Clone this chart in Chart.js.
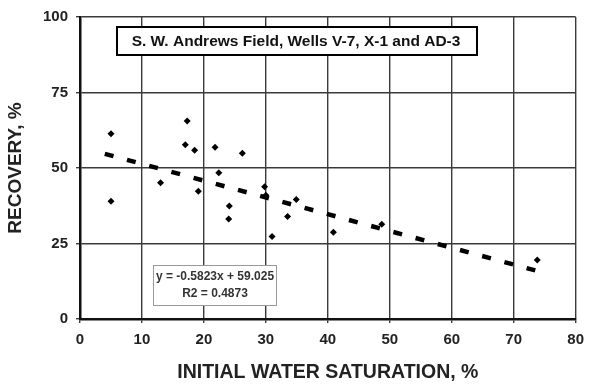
<!DOCTYPE html>
<html lang="en">
<head>
  <meta charset="UTF-8" />
  <title>Recovery vs initial water saturation</title>
  <script src="https://cdn.jsdelivr.net/npm/chart.js"></script>
  <style>
    html, body { margin: 0; padding: 0; background: #fff; }
    #chart-container { width: 592px; height: 388px; }
  </style>
</head>
<body>
  <div id="chart-container">
    <canvas id="chart"></canvas>
  </div>

  <script>
    // values
    const waterSat = [5, 5, 13, 17.3, 17, 18.5, 19.1, 21.8, 22.4, 26.2, 24.1, 24, 29.8, 30, 31, 33.5, 34.9, 40.9, 48.7, 73.8];
    const recovery = [61.3, 39, 45.1, 65.6, 57.7, 55.9, 42.3, 56.9, 48.4, 54.9, 37.4, 33.1, 43.8, 41, 27.3, 33.9, 39.6, 28.7, 31.4, 19.5];
    const trendX = [4, 74];
    const trendY = [54.7, 15.8];
    const xTicks = [0, 10, 20, 30, 40, 50, 60, 70, 80];
    const yTicks = [0, 25, 50, 75, 100];
    const titleText = 'S. W. Andrews Field, Wells V-7, X-1 and AD-3';
    const eqLines = ['y = -0.5823x + 59.025', 'R2 = 0.4873'];

    const FONT = "'Liberation Sans', Arial, sans-serif";

    const boxes = {
      id: 'boxes',
      afterDraw(chart) {
        const ctx = chart.ctx;
        ctx.save();
        // title box
        ctx.fillStyle = '#fff';
        ctx.fillRect(117, 27, 360, 28);
        ctx.strokeStyle = '#000';
        ctx.lineWidth = 2;
        ctx.strokeRect(117, 27, 360, 28);
        ctx.fillStyle = '#111';
        ctx.font = 'bold 15.5px ' + FONT;
        ctx.textAlign = 'center';
        ctx.textBaseline = 'middle';
        ctx.fillText(titleText, 296, 41.5);
        // equation box
        ctx.fillStyle = '#fff';
        ctx.fillRect(153.5, 265.5, 123, 40);
        ctx.strokeStyle = '#999';
        ctx.lineWidth = 1;
        ctx.strokeRect(153.5, 265.5, 123, 40);
        ctx.fillStyle = '#333';
        ctx.font = 'bold 12px ' + FONT;
        ctx.fillText(eqLines[0], 215, 277);
        ctx.fillText(eqLines[1], 215, 294);
        ctx.restore();
      }
    };

    const ctx = document.getElementById('chart').getContext('2d');
    new Chart(ctx, {
      data: {
        datasets: [
          {
            type: 'scatter',
            data: waterSat.map((x, i) => ({ x: x, y: recovery[i] })),
            pointStyle: 'rectRot',
            pointRadius: 3.5,
            backgroundColor: '#000',
            borderColor: '#000',
            borderWidth: 0
          },
          {
            type: 'line',
            data: trendX.map((x, i) => ({ x: x, y: trendY[i] })),
            borderColor: '#000',
            borderWidth: 4.5,
            borderDash: [9, 14],
            pointRadius: 0,
            fill: false
          }
        ]
      },
      options: {
        responsive: true,
        maintainAspectRatio: false,
        animation: false,
        layout: { padding: { top: 15, right: 13, left: 0, bottom: 0 } },
        plugins: {
          legend: { display: false },
          tooltip: { enabled: false }
        },
        scales: {
          x: {
            type: 'linear',
            min: 0,
            max: 80,
            afterBuildTicks: s => { s.ticks = xTicks.map(v => ({ value: v })); },
            afterFit: s => { s.height = 69; },
            grid: { color: '#3a3a3a', lineWidth: 1.4, tickLength: 4, drawTicks: true },
            border: { color: '#111', width: 2.5 },
            ticks: { color: '#222', font: { family: FONT, size: 15, weight: 'bold' }, padding: 8, maxRotation: 0 },
            title: { display: true, text: 'INITIAL WATER SATURATION, %', color: '#222', font: { family: FONT, size: 19.5, weight: 'bold' }, padding: { top: 5 } }
          },
          y: {
            type: 'linear',
            min: 0,
            max: 100,
            afterBuildTicks: s => { s.ticks = yTicks.map(v => ({ value: v })); },
            afterFit: s => { s.width = 80; },
            grid: { color: '#3a3a3a', lineWidth: 1.4, tickLength: 4 },
            border: { color: '#111', width: 2.5 },
            ticks: { color: '#222', font: { family: FONT, size: 15, weight: 'bold' }, padding: 8 },
            title: { display: true, text: 'RECOVERY, %', color: '#222', font: { family: FONT, size: 19, weight: 'bold' }, padding: { top: 4 } }
          }
        }
      },
      plugins: [boxes]
    });
  </script>
</body>
</html>
